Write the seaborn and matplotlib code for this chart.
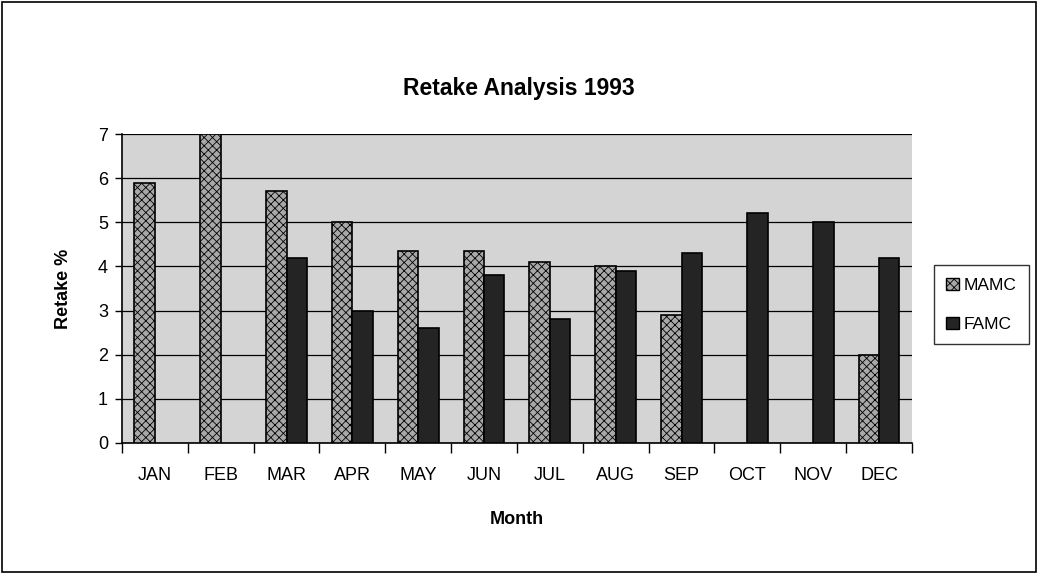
import numpy as np
import pandas as pd
import matplotlib
matplotlib.use("Agg")
import matplotlib.pyplot as plt
import seaborn as sns
from matplotlib.patches import Rectangle, Patch

months = ["JAN", "FEB", "MAR", "APR", "MAY", "JUN", "JUL", "AUG", "SEP", "OCT", "NOV", "DEC"]
mamc = [5.9, 7.0, 5.7, 5.0, 4.35, 4.35, 4.1, 4.0, 2.9, np.nan, np.nan, 2.0]
famc = [np.nan, np.nan, 4.2, 3.0, 2.6, 3.8, 2.8, 3.9, 4.3, 5.2, 5.0, 4.2]
series = ["MAMC", "FAMC"]
yticks = [0, 1, 2, 3, 4, 5, 6, 7]

df = pd.DataFrame({
    "Month": months * 2,
    "Series": ["MAMC"] * len(months) + ["FAMC"] * len(months),
    "Retake": mamc + famc,
})

sns.set_style("white")
plt.rcParams["font.family"] = ["Liberation Sans", "DejaVu Sans"]
plt.rcParams["text.color"] = "black"
plt.rcParams["axes.labelcolor"] = "black"
plt.rcParams["xtick.color"] = "black"
plt.rcParams["ytick.color"] = "black"
plt.rcParams["hatch.color"] = "#444444"
plt.rcParams["hatch.linewidth"] = 0.6

fig = plt.figure(figsize=(10.38, 5.73), dpi=100)
ax = fig.add_axes([0.1175, 0.2269, 0.7611, 0.5392])

colors = {"MAMC": "#a8a8a8", "FAMC": "#242424"}
sns.barplot(data=df, x="Month", y="Retake", hue="Series", hue_order=series,
            order=months, palette=colors, width=0.62, edgecolor="black",
            linewidth=1.2, ax=ax, legend=False, zorder=3)

for bar in ax.patches:
    fc = bar.get_facecolor()
    if fc[0] > 0.5:
        bar.set_hatch("xxxx")

ax.set_facecolor("#d4d4d4")
ax.set_ylim(0, 7)
ax.set_xlim(-0.5, len(months) - 0.5)
ax.set_yticks(yticks)
ax.grid(axis="y", color="black", linewidth=0.9, zorder=1)
ax.set_axisbelow(True)
for s in ["top", "right"]:
    ax.spines[s].set_visible(False)
for s in ["left", "bottom"]:
    ax.spines[s].set_color("black")
    ax.spines[s].set_linewidth(1.2)

ax.tick_params(axis="y", which="major", direction="out", length=5, width=1, labelsize=13, left=True, pad=5)
ax.tick_params(axis="x", which="major", length=0, labelsize=13, pad=17)
ax.set_xticks(np.arange(-0.5, len(months) + 0.5, 1), minor=True)
ax.tick_params(axis="x", which="minor", direction="out", length=7, width=1, bottom=True)

ax.set_xlabel("Month", fontsize=13, fontweight="bold", labelpad=20)
ax.set_ylabel("Retake %", fontsize=13, fontweight="bold", labelpad=19)
fig.text(0.5, 0.846, "Retake Analysis 1993", ha="center", va="center",
         fontsize=16.5, fontweight="bold")

handles = [Patch(facecolor=colors["MAMC"], edgecolor="black", hatch="xxxx"),
           Patch(facecolor=colors["FAMC"], edgecolor="black")]
leg = fig.legend(handles, series, loc="center left", bbox_to_anchor=(0.9, 0.468),
                 frameon=True, fontsize=12.5, handlelength=0.7, handleheight=0.7,
                 handletextpad=0.3, labelspacing=1.4, borderpad=0.7, fancybox=False,
                 borderaxespad=0)
leg.get_frame().set_edgecolor("black")
leg.get_frame().set_linewidth(1.0)

fig.patches.append(Rectangle((0.002, 0.002), 0.996, 0.994, transform=fig.transFigure,
                             fill=False, edgecolor="black", linewidth=1.2))

fig.savefig("out.png", dpi=100)
